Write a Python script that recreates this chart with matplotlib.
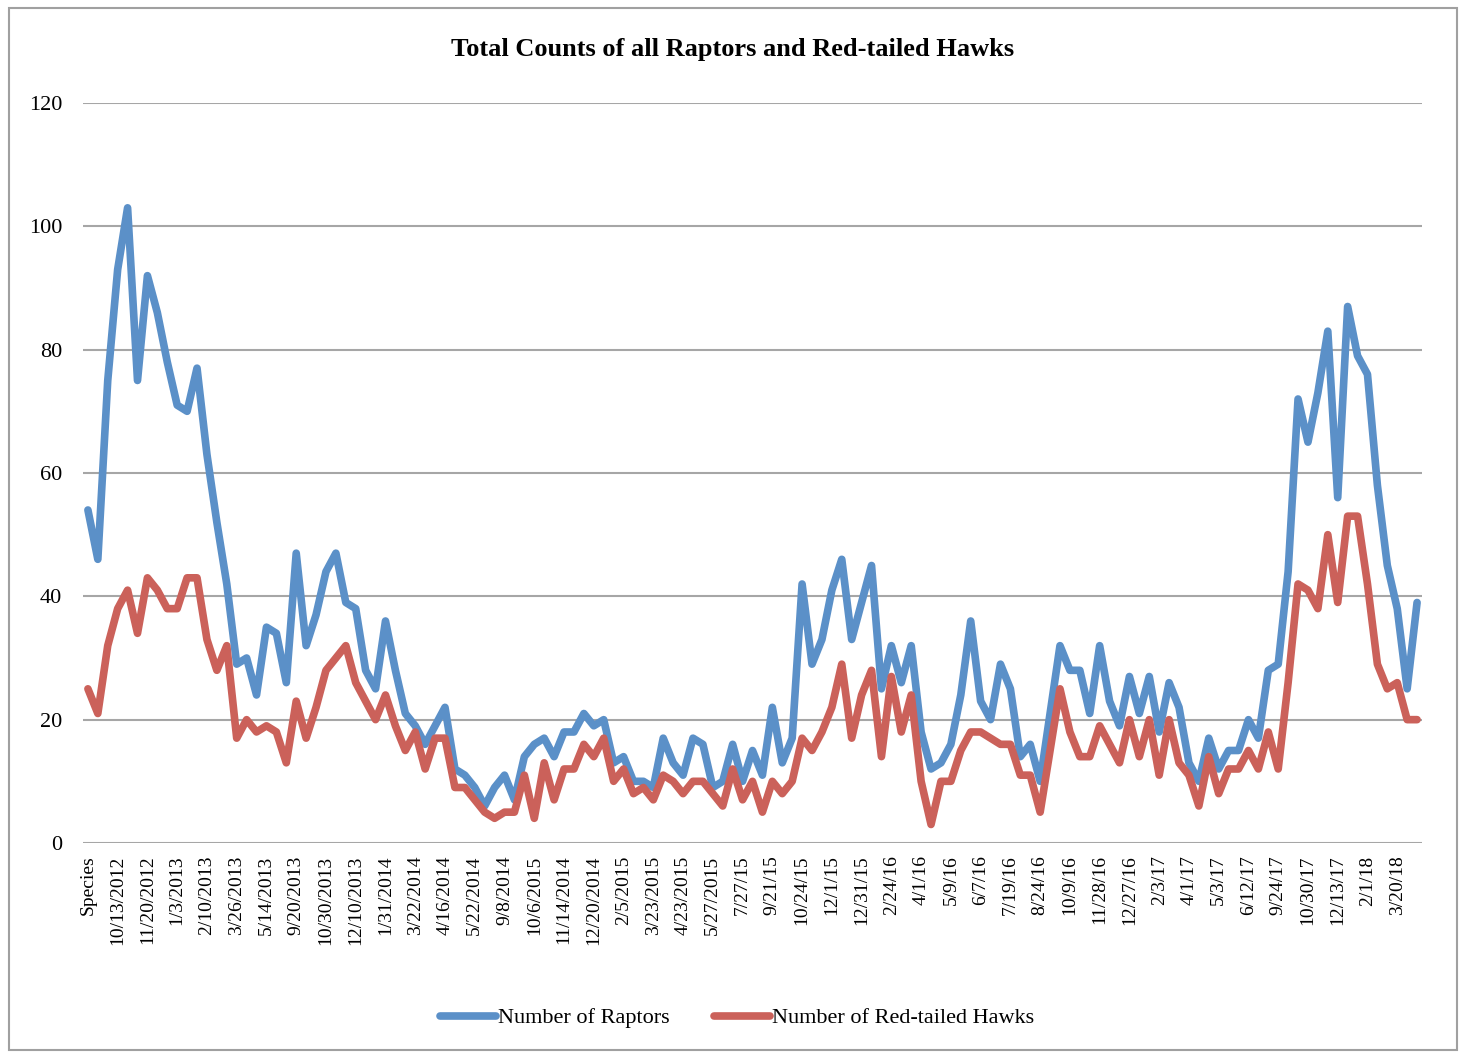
import matplotlib.pyplot as plt
from matplotlib.patches import Rectangle

tick_dates = ['Species', '10/13/2012', '11/20/2012', '1/3/2013', '2/10/2013', '3/26/2013',
              '5/14/2013', '9/20/2013', '10/30/2013', '12/10/2013', '1/31/2014', '3/22/2014',
              '4/16/2014', '5/22/2014', '9/8/2014', '10/6/2015', '11/14/2014', '12/20/2014',
              '2/5/2015', '3/23/2015', '4/23/2015', '5/27/2015', '7/27/15', '9/21/15',
              '10/24/15', '12/1/15', '12/31/15', '2/24/16', '4/1/16', '5/9/16', '6/7/16',
              '7/19/16', '8/24/16', '10/9/16', '11/28/16', '12/27/16', '2/3/17', '4/1/17',
              '5/3/17', '6/12/17', '9/24/17', '10/30/17', '12/13/17', '2/1/18', '3/20/18']

raptors = [54, 46, 75, 93, 103, 75, 92, 86, 78, 71, 70, 77, 63, 52, 42, 29, 30, 24, 35, 34,
           26, 47, 32, 37, 44, 47, 39, 38, 28, 25, 36, 28, 21, 19, 16, 19, 22, 12, 11, 9,
           6, 9, 11, 7, 14, 16, 17, 14, 18, 18, 21, 19, 20, 13, 14, 10, 10, 9, 17, 13,
           11, 17, 16, 9, 10, 16, 10, 15, 11, 22, 13, 17, 42, 29, 33, 41, 46, 33, 39, 45,
           25, 32, 26, 32, 18, 12, 13, 16, 24, 36, 23, 20, 29, 25, 14, 16, 10, 21, 32, 28,
           28, 21, 32, 23, 19, 27, 21, 27, 18, 26, 22, 13, 10, 17, 12, 15, 15, 20, 17, 28,
           29, 44, 72, 65, 73, 83, 56, 87, 79, 76, 58, 45, 38, 25, 39]

red_tailed = [25, 21, 32, 38, 41, 34, 43, 41, 38, 38, 43, 43, 33, 28, 32, 17, 20, 18, 19, 18,
              13, 23, 17, 22, 28, 30, 32, 26, 23, 20, 24, 19, 15, 18, 12, 17, 17, 9, 9, 7,
              5, 4, 5, 5, 11, 4, 13, 7, 12, 12, 16, 14, 17, 10, 12, 8, 9, 7, 11, 10,
              8, 10, 10, 8, 6, 12, 7, 10, 5, 10, 8, 10, 17, 15, 18, 22, 29, 17, 24, 28,
              14, 27, 18, 24, 10, 3, 10, 10, 15, 18, 18, 17, 16, 16, 11, 11, 5, 15, 25, 18,
              14, 14, 19, 16, 13, 20, 14, 20, 11, 20, 13, 11, 6, 14, 8, 12, 12, 15, 12, 18,
              12, 26, 42, 41, 38, 50, 39, 53, 53, 42, 29, 25, 26, 20, 20]

x = list(range(len(raptors)))
serif = ['Liberation Serif', 'DejaVu Serif']

fig = plt.figure(figsize=(14.63, 10.54), dpi=100)
ax = fig.add_axes([0.0567, 0.2002, 0.9153, 0.7021])

ax.plot(x, raptors, color='#5b90c8', lw=5.5, solid_joinstyle='round',
        solid_capstyle='round', label='Number of Raptors', zorder=3)
ax.plot(x, red_tailed, color='#cb615a', lw=5.5, solid_joinstyle='round',
        solid_capstyle='round', label='Number of Red-tailed Hawks', zorder=3)

ax.set_xlim(-0.5, len(x) - 0.5)
ax.set_ylim(0, 120)
ax.set_yticks(range(0, 121, 20))
ax.set_yticklabels([str(v) for v in range(0, 121, 20)], family=serif, fontsize=16)
ax.set_xticks(range(0, len(x), 3))
ax.set_xticklabels(tick_dates, rotation=90, family=serif, fontsize=14)
ax.tick_params(axis='y', length=0, pad=15)
ax.tick_params(axis='x', length=0, pad=9)
ax.grid(axis='y', color='#a6a6a6', lw=1.5)
ax.set_axisbelow(True)
for s in ax.spines.values():
    s.set_visible(False)

fig.text(0.501, 0.9526, 'Total Counts of all Raptors and Red-tailed Hawks', ha='center',
         va='center', family=serif, fontweight='bold', fontsize=19)

fig.legend(loc='center', bbox_to_anchor=(0.504, 0.034), ncol=2, frameon=False,
           prop={'family': serif, 'size': 16}, handlelength=2.5, handletextpad=0.1,
           columnspacing=2.0)

fig.patches.append(Rectangle((0.006, 0.004), 0.99, 0.988, transform=fig.transFigure,
                             fill=False, edgecolor='#a0a0a0', lw=1.5))

fig.savefig('out.png', dpi=100)
